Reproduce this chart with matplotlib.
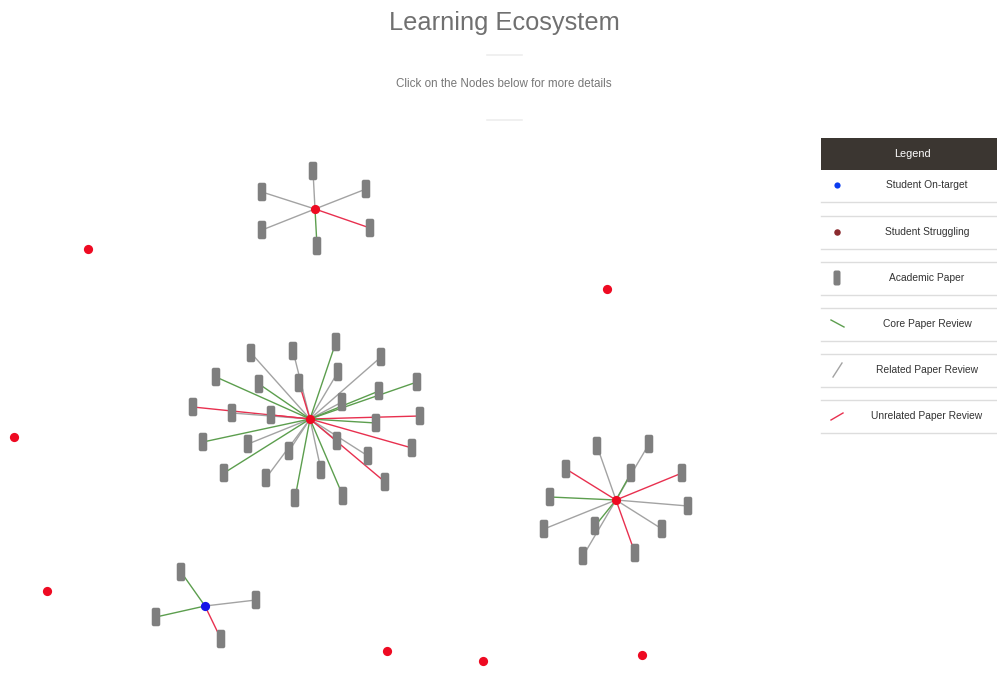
import matplotlib.pyplot as plt
from matplotlib.patches import FancyBboxPatch

plt.rcParams['font.family'] = ['Liberation Sans', 'DejaVu Sans']

# student nodes (screen positions) and their status
student_xy = [(315, 209), (310, 419), (616, 500), (205, 606),
              (88, 249), (607, 289), (14, 437), (47, 591),
              (387, 651), (483, 661), (642, 655)]
student_kind = ['struggling', 'struggling', 'struggling', 'ontarget',
                'struggling', 'struggling', 'struggling', 'struggling',
                'struggling', 'struggling', 'struggling']

# papers reviewed by each connected student: (x, y, review type)
papers_top = [(313, 171, 'related'), (262, 192, 'related'), (366, 189, 'related'),
              (262, 230, 'related'), (370, 228, 'unrelated'), (317, 246, 'core')]
papers_mid = [(251, 353, 'related'), (293, 351, 'related'), (336, 342, 'core'),
              (381, 357, 'related'), (216, 377, 'core'), (259, 384, 'core'),
              (299, 383, 'unrelated'), (338, 372, 'related'), (417, 382, 'core'),
              (379, 391, 'core'), (342, 402, 'related'), (193, 407, 'unrelated'),
              (232, 413, 'related'), (271, 415, 'unrelated'), (420, 416, 'unrelated'),
              (376, 423, 'core'), (203, 442, 'core'), (248, 444, 'related'),
              (337, 441, 'related'), (412, 448, 'unrelated'), (289, 451, 'related'),
              (368, 456, 'related'), (224, 473, 'core'), (266, 478, 'related'),
              (321, 470, 'related'), (385, 482, 'unrelated'), (295, 498, 'core'),
              (343, 496, 'core')]
papers_right = [(597, 446, 'related'), (649, 444, 'related'), (566, 469, 'unrelated'),
                (631, 473, 'core'), (682, 473, 'unrelated'), (550, 497, 'core'),
                (688, 506, 'related'), (544, 529, 'related'), (595, 526, 'core'),
                (662, 529, 'related'), (583, 556, 'related'), (635, 553, 'unrelated')]
papers_blue = [(181, 572, 'core'), (256, 600, 'related'), (156, 617, 'core'),
               (221, 639, 'unrelated')]
clusters = [(0, papers_top), (1, papers_mid), (2, papers_right), (3, papers_blue)]

edge_colors = {'core': '#5c9e4e', 'related': '#a3a3a3', 'unrelated': '#e8304f'}
node_colors = {'ontarget': '#1515e8', 'struggling': '#ee0a22'}
paper_color = '#7f7f7f'

legend_labels = ['Student On-target', 'Student Struggling', 'Academic Paper',
                 'Core Paper Review', 'Related Paper Review', 'Unrelated Paper Review']

fig = plt.figure(figsize=(9.97, 6.75), dpi=100)
ax = fig.add_axes([0, 0, 1, 1])
ax.set_xlim(0, 997)
ax.set_ylim(675, 0)
ax.axis('off')


def draw_paper(x, y, w=8.5, h=18.5, color=paper_color):
    ax.add_patch(FancyBboxPatch((x - w / 2 + 2, y - h / 2 + 2), w - 4, h - 4,
                                boxstyle='round,pad=2', fc=color, ec='none', zorder=3))


# edges first, then papers, then students on top
for si, papers in clusters:
    sx, sy = student_xy[si]
    order = sorted(papers, key=lambda p: p[2] == 'core')
    for px, py, kind in order:
        ax.plot([sx, px], [sy, py], color=edge_colors[kind], lw=1.0, zorder=2)
    for px, py, kind in papers:
        draw_paper(px, py)

for (x, y), kind in zip(student_xy, student_kind):
    ax.scatter(x, y, s=44, color=node_colors[kind], zorder=4, linewidths=0)

# header
ax.text(504, 23, 'Learning Ecosystem', ha='center', va='center', fontsize=18.3, color='#707070')
ax.plot([487, 522], [55, 55], color='#eeeeee', lw=1.2)
ax.text(504, 84, 'Click on the Nodes below for more details', ha='center', va='center',
        fontsize=8.4, color='#777777')
ax.plot([487, 522], [120, 120], color='#eeeeee', lw=1.2)

# legend panel
ax.add_patch(plt.Rectangle((821, 138), 176, 32, fc='#3b3631', ec='none', zorder=5))
ax.text(912, 154, 'Legend', ha='center', va='center', fontsize=7.8, color='white', zorder=6)
row_y = [185, 232, 278, 324, 370, 416]
for i, (label, ry) in enumerate(zip(legend_labels, row_y)):
    ax.text(927, ry, label, ha='center', va='center', fontsize=7.4, color='#333333')
    ax.plot([821, 997], [ry + 16.5, ry + 16.5], color='#dddddd', lw=1)
    if i > 0:
        ax.plot([821, 997], [ry - 16.5, ry - 16.5], color='#dddddd', lw=1)
mx = 837
ax.scatter(mx, row_y[0], s=20, color='#0a3cf0', linewidths=0, zorder=6)
ax.scatter(mx, row_y[1], s=22, color='#8b2a2e', linewidths=0, zorder=6)
draw_paper(mx, row_y[2], w=7, h=15)
ax.plot([831, 844], [row_y[3] - 4, row_y[3] + 3], color=edge_colors['core'], lw=1)
ax.plot([833, 842], [row_y[4] + 7, row_y[4] - 7], color=edge_colors['related'], lw=1)
ax.plot([831, 843], [row_y[5] + 4, row_y[5] - 3], color=edge_colors['unrelated'], lw=1)

fig.savefig('out.png', dpi=100)
